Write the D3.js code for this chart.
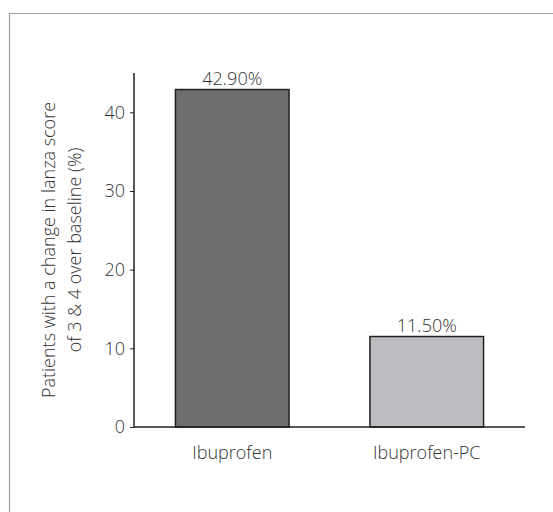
<!DOCTYPE html>
<html>
<head>
<meta charset="utf-8">
<script src="https://cdn.jsdelivr.net/npm/d3@7"></script>
<style>
  html, body { margin: 0; padding: 0; background: #fff; }
  svg text { font-family: "Open Sans", sans-serif; font-weight: 300; fill: #333; }
</style>
</head>
<body>
<svg id="chart" width="553" height="512"></svg>
<script>
// Treatment groups and the share of patients with a Lanza score change of 3 & 4
const categories = ["Ibuprofen", "Ibuprofen-PC"];
const values = [42.9, 11.5];
const valueLabels = ["42.90%", "11.50%"];
const barColors = ["#6d6e70", "#bcbdc0"];
const yTicks = [0, 10, 20, 30, 40];
const yTitleLines = ["Patients with a change in lanza score", "of 3 & 4 over baseline (%)"];

const svg = d3.select("#chart");
const fontSize = "18px";
const fontFamily = "\"Open Sans\", sans-serif";
const textColor = "#333";

// Panel frame (top and left edges)
svg.append("path")
  .attr("d", "M9.5,512 V13.5 H553")
  .attr("fill", "none")
  .attr("stroke", "#a0a0a0")
  .attr("stroke-width", 1.2);

const plotLeft = 134, plotRight = 525, plotTop = 73, plotBottom = 427;

const y = d3.scaleLinear().domain([0, 45]).range([plotBottom, plotTop]);
const x = d3.scaleBand().domain(categories).range([plotLeft, plotRight])
  .paddingInner(0.416).paddingOuter(0.213);

// Bars
svg.append("g").selectAll("rect")
  .data(values)
  .join("rect")
  .attr("x", (d, i) => x(categories[i]))
  .attr("y", d => y(d))
  .attr("width", x.bandwidth())
  .attr("height", d => y(0) - y(d))
  .attr("fill", (d, i) => barColors[i])
  .attr("stroke", "#231f20")
  .attr("stroke-width", 1.5);

// Value labels above bars
svg.append("g").selectAll("text")
  .data(values)
  .join("text")
  .attr("x", (d, i) => x(categories[i]) + x.bandwidth() / 2)
  .attr("y", d => y(d) - 5)
  .attr("text-anchor", "middle")
  .style("font-size", fontSize)
  .text((d, i) => valueLabels[i]);

// Y axis
const yAxis = svg.append("g")
  .attr("transform", `translate(${plotLeft},0)`)
  .call(d3.axisLeft(y).tickValues(yTicks).tickSize(4).tickPadding(5).tickSizeOuter(0));
yAxis.select(".domain").remove();
yAxis.append("line")
  .attr("x1", 0).attr("x2", 0)
  .attr("y1", plotTop).attr("y2", plotBottom)
  .attr("stroke", "#231f20").attr("stroke-width", 1.5);
yAxis.selectAll(".tick line").attr("stroke", "#231f20").attr("stroke-width", 1);
yAxis.selectAll(".tick text")
  .style("font-size", fontSize)
  .style("font-family", fontFamily)
  .attr("fill", textColor);

// X axis baseline
svg.append("line")
  .attr("x1", plotLeft).attr("x2", plotRight)
  .attr("y1", y(0)).attr("y2", y(0))
  .attr("stroke", "#231f20").attr("stroke-width", 1.5);

// Category labels
const xAxis = svg.append("g")
  .attr("transform", `translate(0,${plotBottom})`)
  .call(d3.axisBottom(x).tickSize(0).tickPadding(19));
xAxis.select(".domain").remove();
xAxis.selectAll(".tick text")
  .style("font-size", fontSize)
  .style("font-family", fontFamily)
  .attr("fill", textColor);

// Y axis title
const title = svg.append("text")
  .attr("transform", `translate(49,${(plotTop + plotBottom) / 2}) rotate(-90)`)
  .attr("text-anchor", "middle")
  .style("font-size", fontSize);
title.selectAll("tspan")
  .data(yTitleLines)
  .join("tspan")
  .attr("x", 0)
  .attr("dy", (d, i) => i === 0 ? "0.35em" : "26px")
  .text(d => d);
</script>
</body>
</html>
